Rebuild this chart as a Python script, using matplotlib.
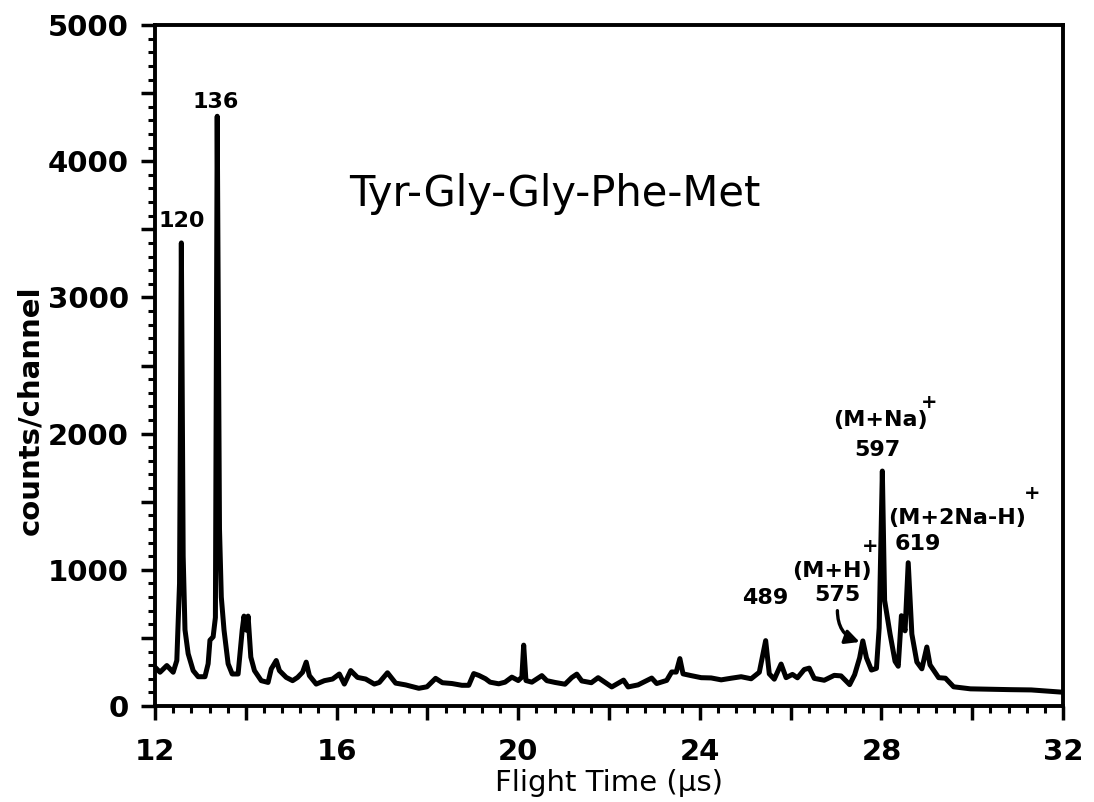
import matplotlib
matplotlib.use("Agg")
import matplotlib.pyplot as plt
from matplotlib.ticker import MultipleLocator, FuncFormatter

# flight time (us) and counts/channel
flight_time = [12.00, 12.11, 12.26, 12.40, 12.48, 12.54, 12.58, 12.62, 12.66, 12.73,
               12.84, 12.95, 13.10, 13.17, 13.21, 13.28, 13.33, 13.37, 13.42, 13.46,
               13.52, 13.61, 13.70, 13.83, 13.92, 13.96, 14.01, 14.05, 14.11, 14.19,
               14.34, 14.49, 14.56, 14.67, 14.74, 14.89, 15.03, 15.14, 15.25, 15.33,
               15.40, 15.55, 15.73, 15.91, 16.06, 16.17, 16.31, 16.46, 16.64, 16.83,
               16.94, 17.12, 17.30, 17.52, 17.81, 17.99, 18.18, 18.33, 18.54, 18.76,
               18.91, 19.02, 19.13, 19.28, 19.38, 19.57, 19.71, 19.86, 20.00, 20.08,
               20.12, 20.17, 20.30, 20.52, 20.63, 20.81, 21.03, 21.18, 21.29, 21.40,
               21.61, 21.76, 22.06, 22.32, 22.42, 22.64, 22.94, 23.05, 23.27, 23.38,
               23.48, 23.56, 23.63, 23.81, 24.03, 24.25, 24.47, 24.69, 24.91, 25.13,
               25.31, 25.45, 25.53, 25.64, 25.79, 25.90, 26.04, 26.15, 26.30, 26.41,
               26.52, 26.74, 26.96, 27.11, 27.30, 27.41, 27.52, 27.59, 27.67, 27.78,
               27.89, 27.95, 28.02, 28.07, 28.19, 28.30, 28.37, 28.44, 28.52, 28.59,
               28.67, 28.78, 28.89, 29.00, 29.07, 29.26, 29.41, 29.59, 29.96, 30.41,
               30.85, 31.30, 31.96]
counts = [285, 248, 297, 248, 334, 900, 3400, 1100, 560, 384,
          260, 215, 215, 310, 483, 508, 650, 4330, 1300, 800,
          557, 310, 235, 235, 557, 660, 557, 660, 359, 260,
          186, 173, 272, 334, 260, 210, 186, 210, 248, 322,
          223, 161, 186, 198, 235, 161, 260, 210, 198, 161,
          173, 244, 168, 155, 130, 141, 203, 171, 165, 152,
          152, 238, 225, 200, 175, 163, 175, 212, 187, 212,
          447, 187, 175, 223, 186, 173, 160, 209, 234, 184,
          171, 208, 140, 190, 140, 155, 205, 165, 188, 250,
          249, 348, 236, 223, 208, 206, 192, 204, 215, 200,
          248, 480, 236, 197, 308, 208, 232, 207, 268, 278,
          203, 189, 225, 221, 157, 230, 354, 478, 354, 264,
          276, 573, 1725, 776, 528, 328, 292, 663, 552, 1052,
          528, 323, 273, 433, 302, 208, 204, 141, 126, 123,
          120, 118, 102]

# peak labels: text, x, y
peak_labels = [("120", 12.58, 3560), ("136", 13.34, 4435), ("489", 25.45, 795),
               ("575", 27.03, 817), ("597", 27.90, 1880), ("619", 28.81, 1190),
               ("(M+H)", 26.92, 988), ("(M+Na)", 27.98, 2100), ("(M+2Na-H)", 29.66, 1377)]
plus_marks = [(27.76, 1170), (29.05, 2230), (31.33, 1560)]

fig = plt.figure(figsize=(10.94, 8.02), dpi=100)
ax = fig.add_axes([0.1417, 0.1197, 0.8300, 0.8491])

ax.plot(flight_time, counts, color="black", lw=3.6, solid_joinstyle="round")

ax.set_xlim(12, 32)
ax.set_ylim(0, 5000)

ax.xaxis.set_major_locator(MultipleLocator(2))
ax.xaxis.set_minor_locator(MultipleLocator(0.4))
ax.yaxis.set_major_locator(MultipleLocator(500))
ax.yaxis.set_minor_locator(MultipleLocator(100))
ax.xaxis.set_major_formatter(FuncFormatter(lambda v, p: "%d" % v if round(v) % 4 == 0 else ""))
ax.yaxis.set_major_formatter(FuncFormatter(lambda v, p: "%d" % v if round(v) % 1000 == 0 else ""))

for s in ax.spines.values():
    s.set_linewidth(2.8)
ax.tick_params(which="major", direction="out", length=10, width=2.5,
               labelsize=21, top=False, right=False)
ax.tick_params(axis="x", which="major", pad=13)
ax.tick_params(axis="y", which="major", pad=9)
ax.tick_params(which="minor", direction="out", length=5, width=2.2, top=False, right=False)
for lab in ax.get_xticklabels() + ax.get_yticklabels():
    lab.set_fontweight("bold")

ax.set_xlabel("Flight Time (\u03bcs)", fontsize=21)
ax.xaxis.set_label_coords(0.5, -0.093)
ax.set_ylabel("counts/channel", fontsize=21, fontweight="bold")
ax.yaxis.set_label_coords(-0.122, 0.435)

ax.text(20.8, 3760, "Tyr-Gly-Gly-Phe-Met", fontsize=30, ha="center", va="center")

for txt, x, y in peak_labels:
    ax.text(x, y, txt, fontsize=16, fontweight="bold", ha="center", va="center")
for x, y in plus_marks:
    ax.text(x, y, "+", fontsize=14, fontweight="bold", ha="center", va="center")

ax.annotate("", xy=(27.52, 470), xytext=(27.03, 700),
            arrowprops=dict(arrowstyle="-|>,head_length=0.6,head_width=0.3", lw=2.4,
                            color="black", shrinkA=0, shrinkB=0,
                            connectionstyle="arc3,rad=0.35", mutation_scale=14))

fig.savefig("out.png", dpi=100)
